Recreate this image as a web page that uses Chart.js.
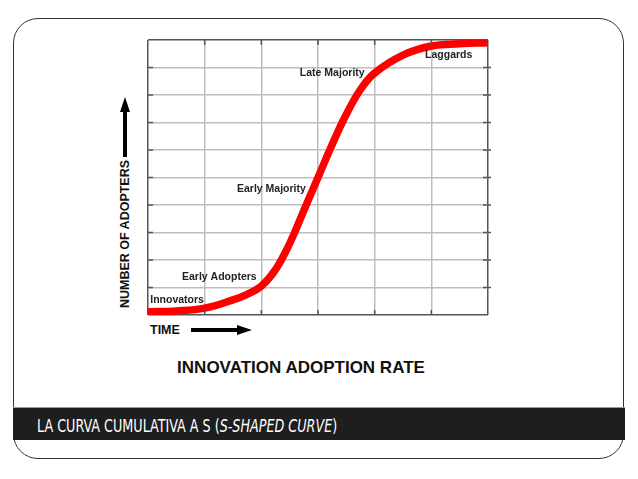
<!DOCTYPE html>
<html>
<head>
<meta charset="utf-8">
<script src="https://cdn.jsdelivr.net/npm/chart.js@4.4.1/dist/chart.umd.min.js"></script>
<style>
  html, body { margin: 0; padding: 0; background: #fff; overflow: hidden; }
  #wrap { position: relative; width: 638px; height: 479px; }
  #frame {
    position: absolute; left: 13px; top: 18px; width: 611px; height: 441px;
    border: 1px solid #333; border-radius: 25px; box-sizing: border-box;
  }
  #band {
    position: absolute; left: 13px; top: 407px; width: 612px; height: 33px;
    background: #1e1e1e; border-top: 1px solid #999; box-sizing: border-box;
  }
  #bandText {
    position: absolute; left: 37px; top: 418px; transform-origin: left center;
    color: #fff; font-family: "DejaVu Sans Condensed", "DejaVu Sans", sans-serif;
    font-size: 17px; line-height: 17px; white-space: nowrap;
  }
  .t {
    position: absolute; font-family: "Liberation Sans", Arial, sans-serif;
    font-weight: bold; color: #111; white-space: nowrap;
  }
  #title { left: 301px; top: 368px; font-size: 17px; transform: translate(-50%, -50%); }
  #timeLabel { left: 150px; top: 330px; font-size: 12.5px; transform: translateY(-50%); }
  #yLabel { left: 125px; top: 234px; font-size: 12.5px; transform: translate(-50%, -50%) rotate(-90deg); }
  canvas { position: absolute; left: 0; top: 0; }
</style>
</head>
<body>
<div id="wrap">
  <div id="frame"></div>
  <div id="band"></div>
  <div id="bandText">LA CURVA CUMULATIVA A S (<i>S-SHAPED CURVE</i>)</div>
  <div class="t" id="title">INNOVATION ADOPTION RATE</div>
  <div class="t" id="timeLabel">TIME</div>
  <div class="t" id="yLabel">NUMBER OF ADOPTERS</div>
  <canvas id="myChart" width="638" height="479"></canvas>
</div>
<script>
// time (grid columns) and cumulative adopters (grid rows)
const timeValues = [0, 0.5, 1, 1.5, 1.75, 2, 2.25, 2.5, 2.75, 3, 3.25, 3.5, 3.75, 4, 4.5, 5, 5.5, 6];
const adopterValues = [0.12, 0.15, 0.25, 0.55, 0.75, 1.05, 1.65, 2.6, 3.8, 5.0, 6.2, 7.3, 8.2, 8.8, 9.45, 9.78, 9.86, 9.9];

// stage labels, placed in data units (left edge, vertical centre)
const stageNames = ["Innovators", "Early Adopters", "Early Majority", "Late Majority", "Laggards"];
const stageX = [0.04, 0.6, 1.57, 2.68, 4.89];
const stageY = [0.55, 1.38, 4.58, 8.8, 9.45];

const xMax = 6;
const yMax = 10;

// squeeze the footer text to the width it has in the picture
const bandText = document.getElementById('bandText');
bandText.style.transform = 'scaleX(' + (300 / bandText.offsetWidth) + ')';

const points = timeValues.map((t, i) => ({ x: t, y: adopterValues[i] }));

const edgeColor = (ctx, max) => (ctx.tick && (ctx.tick.value === 0 || ctx.tick.value === max)) ? '#555' : '#bdbdbd';

// inner tick marks, stage labels and the two arrows
const extras = {
    id: 'extras',
    afterDatasetsDraw(chart) {
        const { ctx, chartArea, scales } = chart;
        ctx.save();
        ctx.strokeStyle = '#555';
        ctx.lineWidth = 1.5;
        ctx.beginPath();
        for (let v = 1; v < yMax; v++) {
            const y = scales.y.getPixelForValue(v);
            ctx.moveTo(chartArea.left, y); ctx.lineTo(chartArea.left + 5, y);
            ctx.moveTo(chartArea.right - 5, y); ctx.lineTo(chartArea.right + 3, y);
        }
        for (let v = 1; v < xMax; v++) {
            const x = scales.x.getPixelForValue(v);
            ctx.moveTo(x, chartArea.top); ctx.lineTo(x, chartArea.top + 5);
            ctx.moveTo(x, chartArea.bottom); ctx.lineTo(x, chartArea.bottom - 5);
        }
        ctx.stroke();

        ctx.fillStyle = '#222';
        ctx.font = 'bold 10.5px "Liberation Sans", Arial, sans-serif';
        ctx.textAlign = 'left';
        ctx.textBaseline = 'middle';
        stageNames.forEach((name, i) => {
            ctx.fillText(name, scales.x.getPixelForValue(stageX[i]), scales.y.getPixelForValue(stageY[i]));
        });

        // arrows
        ctx.fillStyle = '#000';
        ctx.fillRect(191, 328, 48, 4);
        ctx.beginPath();
        ctx.moveTo(237, 325); ctx.lineTo(252, 330); ctx.lineTo(237, 335); ctx.closePath();
        ctx.fill();
        ctx.fillRect(123, 110, 4, 47);
        ctx.beginPath();
        ctx.moveTo(120, 112); ctx.lineTo(125, 97); ctx.lineTo(130, 112); ctx.closePath();
        ctx.fill();
        ctx.restore();
    }
};

new Chart(document.getElementById('myChart'), {
    type: 'line',
    data: {
        datasets: [{
            data: points,
            borderColor: '#ff0000',
            borderWidth: 7.5,
            pointRadius: 0,
            tension: 0.4,
            fill: false
        }]
    },
    options: {
        responsive: false,
        animation: false,
        layout: { padding: { left: 148, right: 150, top: 40, bottom: 164 } },
        plugins: { legend: { display: false }, tooltip: { enabled: false } },
        scales: {
            x: {
                type: 'linear', min: 0, max: xMax,
                ticks: { display: false, stepSize: 1 },
                border: { display: false },
                grid: { drawTicks: false, lineWidth: 1.5, color: ctx => edgeColor(ctx, xMax) }
            },
            y: {
                min: 0, max: yMax,
                ticks: { display: false, stepSize: 1 },
                border: { display: false },
                grid: { drawTicks: false, lineWidth: 1.5, color: ctx => edgeColor(ctx, yMax) }
            }
        }
    },
    plugins: [extras]
});
</script>
</body>
</html>
